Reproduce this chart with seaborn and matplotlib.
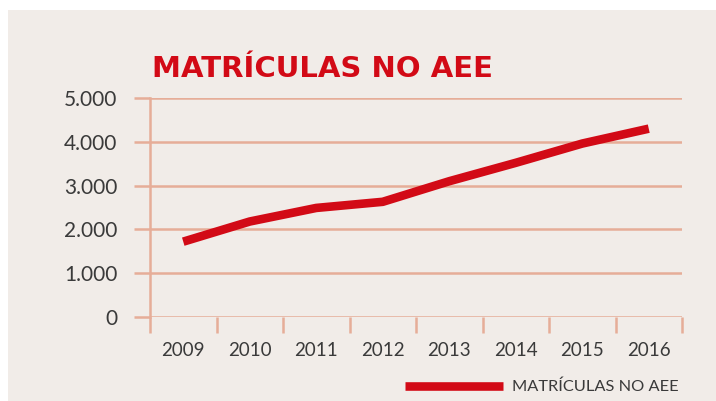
import matplotlib
matplotlib.use("Agg")
import matplotlib.pyplot as plt
import matplotlib.patches as patches
from matplotlib.ticker import FixedLocator, FuncFormatter
import seaborn as sns
import pandas as pd

# data
years = ["2009", "2010", "2011", "2012", "2013", "2014", "2015", "2016"]
matriculas = [1720, 2180, 2490, 2630, 3100, 3520, 3960, 4300]
y_ticks = [0, 1000, 2000, 3000, 4000, 5000]
series_name = "MATRÍCULAS NO AEE"
title = "MATRÍCULAS NO AEE"

df = pd.DataFrame({"ano": years, "matriculas": matriculas})

bg = "#F1ECE8"
grid_col = "#E6AD98"
red = "#D20A16"
txt = "#3A3A3A"

sns.set_style("white")
plt.rcParams["font.family"] = ["Lato", "DejaVu Sans"]

W, H = 716, 401
fig = plt.figure(figsize=(W / 100, H / 100), dpi=100)
fig.patch.set_facecolor("white")
# beige panel behind everything
fig.patches.append(patches.Rectangle((8 / W, 0), 1 - 8 / W, 1 - 10 / H,
                                     transform=fig.transFigure, facecolor=bg,
                                     edgecolor="none", zorder=-5))

ax = fig.add_axes([150 / W, 1 - 317 / H, (682 - 150) / W, (317 - 98) / H])
ax.patch.set_alpha(0)

sns.lineplot(data=df, x="ano", y="matriculas", ax=ax, color=red, linewidth=6.2,
             label=series_name, solid_capstyle="butt", solid_joinstyle="round",
             zorder=5)

ax.set_xlim(-0.5, len(years) - 0.5)
ax.set_ylim(0, 5000)
ax.set_yticks(y_ticks)
ax.yaxis.set_major_formatter(FuncFormatter(lambda v, p: f"{int(v):,}".replace(",", ".")))
ax.grid(axis="y", color=grid_col, linewidth=1.8, zorder=1)
ax.set_axisbelow(True)

for s in ["top", "right", "bottom"]:
    ax.spines[s].set_visible(False)
ax.spines["left"].set_color(grid_col)
ax.spines["left"].set_linewidth(1.8)

# ticks in grid colour: gridlines poke out left, boundaries below the x axis
ax.tick_params(axis="y", left=True, length=11.5, width=1.8, color=grid_col, pad=12,
               labelsize=15, labelcolor=txt)
ax.xaxis.set_minor_locator(FixedLocator([i - 0.5 for i in range(len(years) + 1)]))
ax.tick_params(axis="x", which="major", bottom=True, length=0, pad=18,
               labelsize=13.5, labelcolor=txt)
ax.tick_params(axis="x", which="minor", bottom=True, length=11.5, width=1.8,
               color=grid_col)
ax.set_xlabel("")
ax.set_ylabel("")

fig.text(152 / W, 1 - 77 / H, title, color=red, fontsize=21, fontweight="bold",
         family="DejaVu Sans", va="baseline", ha="left")

ax.legend(loc="center right", bbox_to_anchor=(679 / W, 1 - 387 / H),
          bbox_transform=fig.transFigure, frameon=False, fontsize=11.8,
          handlelength=6.0, handletextpad=0.55, borderpad=0, borderaxespad=0,
          labelcolor=txt)

fig.savefig("out.png", dpi=100, facecolor="white")
